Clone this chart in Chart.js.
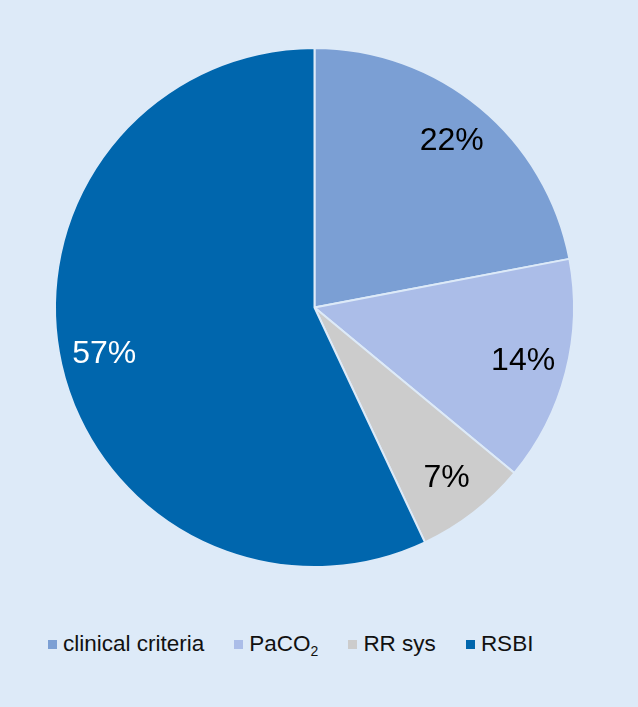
<!DOCTYPE html>
<html>
<head>
<meta charset="utf-8">
<script src="https://cdn.jsdelivr.net/npm/chart.js@4/dist/chart.umd.min.js"></script>
<style>
  html, body { margin: 0; padding: 0; background: #ddeaf8; }
  #wrap { position: relative; width: 638px; height: 707px; background: #ddeaf8; overflow: hidden; }
  #c { position: absolute; left: 0; top: 0; }
  #legend { position: absolute; left: 48px; top: 631px; display: flex; align-items: center; font-family: "Liberation Sans", Arial, sans-serif; font-size: 22.5px; color: #111; }
  .item { display: flex; align-items: center; margin-right: 30px; }
  .box { width: 9px; height: 9px; margin-right: 6px; }
  sub { font-size: 14px; vertical-align: -5px; line-height: 0; }
</style>
</head>
<body>
<div id="wrap">
  <canvas id="c" width="638" height="614"></canvas>
  <div id="legend"></div>
</div>
<script>
const categories = ["clinical criteria", "PaCO2", "RR sys", "RSBI"];
const legendHtml = ["clinical criteria", "PaCO<sub>2</sub>", "RR sys", "RSBI"];
const values = [22, 14, 7, 57];
const colors = ["#7b9fd4", "#abbde8", "#cccccc", "#0066ad"];
const labelColors = ["#000000", "#000000", "#000000", "#ffffff"];

const labelPlugin = {
  id: 'sliceLabels',
  afterDatasetsDraw(chart) {
    const ctx = chart.ctx;
    const meta = chart.getDatasetMeta(0);
    ctx.save();
    ctx.font = '32px "Liberation Sans", Arial, sans-serif';
    ctx.textAlign = 'center';
    ctx.textBaseline = 'middle';
    meta.data.forEach((arc, i) => {
      const p = arc.getProps(['x', 'y', 'startAngle', 'endAngle', 'outerRadius'], true);
      const mid = (p.startAngle + p.endAngle) / 2;
      const r = p.outerRadius * 0.83;
      ctx.fillStyle = labelColors[i];
      ctx.fillText(values[i] + '%', p.x + Math.cos(mid) * r, p.y + Math.sin(mid) * r);
    });
    ctx.restore();
  }
};

new Chart(document.getElementById('c'), {
  type: 'pie',
  data: {
    labels: categories,
    datasets: [{
      data: values,
      backgroundColor: colors,
      borderColor: '#ddeaf8',
      borderWidth: 2,
      hoverOffset: 0
    }]
  },
  options: {
    responsive: false,
    animation: false,
    layout: { padding: { top: 47, bottom: 46, left: 0, right: 9 } },
    plugins: { legend: { display: false }, tooltip: { enabled: false } }
  },
  plugins: [labelPlugin]
});

const lg = document.getElementById('legend');
categories.forEach((c, i) => {
  const it = document.createElement('div');
  it.className = 'item';
  it.innerHTML = '<span class="box" style="background:' + colors[i] + '"></span><span>' + legendHtml[i] + '</span>';
  lg.appendChild(it);
});
</script>
</body>
</html>
